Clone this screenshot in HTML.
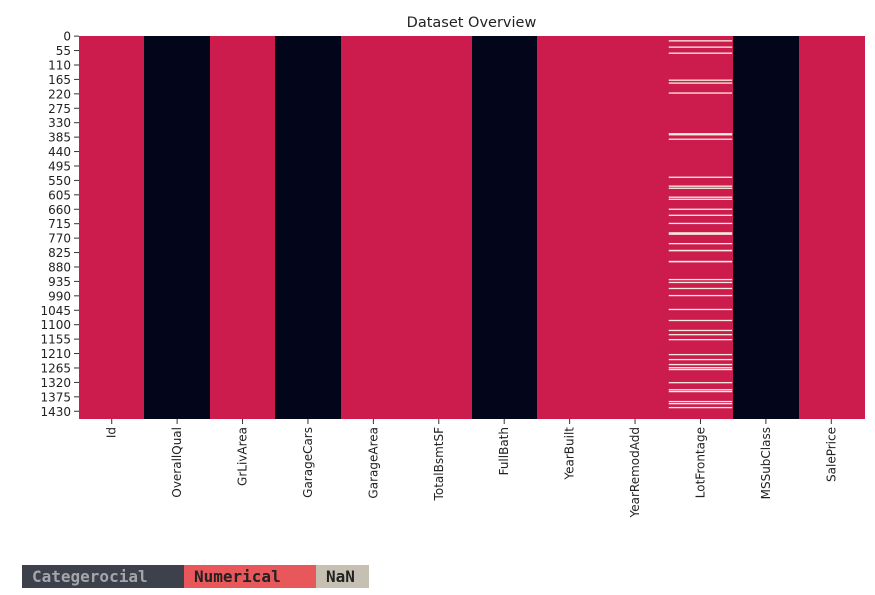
<!DOCTYPE html>
<html><head><meta charset="utf-8"><style>
body{margin:0;background:#fff;width:875px;height:595px;overflow:hidden;position:relative;font-family:"DejaVu Sans","Liberation Sans",sans-serif}
.lg{position:absolute;top:565px;height:23px;line-height:23px;font-family:"DejaVu Sans Mono","Liberation Mono",monospace;font-weight:bold;font-size:16px;padding-left:10px;box-sizing:border-box}
</style></head><body>
<svg id="chart" width="875" height="560" style="position:absolute;left:0;top:0"></svg>
<div class="lg" style="left:22px;width:162px;background:#3c414c;color:#a3a6ab">Categerocial</div>
<div class="lg" style="left:184px;width:132px;background:#e8585a;color:#222">Numerical</div>
<div class="lg" style="left:316px;width:53px;background:#c6c0b2;color:#222">NaN</div>
<script>
const columns=["Id","OverallQual","GrLivArea","GarageCars","GarageArea","TotalBsmtSF","FullBath","YearBuilt","YearRemodAdd","LotFrontage","MSSubClass","SalePrice"];
const columnType=[1,0,1,0,1,1,0,1,1,1,0,1];
const nRows=1460;
const nanColumn=9;
const nanStart=[16,40,63,166,177,215,370,391,536,570,578,612,620,658,681,712,748,789,815,857,926,937,960,987,1040,1082,1120,1136,1155,1212,1231,1250,1262,1269,1319,1346,1353,1391,1399,1414];
const nanCount=[5,5,5,5,5,5,9,5,5,5,5,5,5,5,5,5,10,5,6,6,5,5,5,5,5,5,5,5,5,5,5,5,5,5,5,5,5,5,5,5];
const yTicks=[];for(let v=0;v<nRows;v+=55)yTicks.push(v);
const NS="http://www.w3.org/2000/svg";
const svg=document.getElementById('chart');
const L=79,R=864,T=36,B=419;
const cw=(R-L)/columns.length;
const xs=i=>L+i*cw;
const ys=r=>T+(B-T)*r/nRows;
function mk(t,a){const e=document.createElementNS(NS,t);for(const k in a)e.setAttribute(k,a[k]);svg.appendChild(e);return e;}
const title=mk('text',{x:(L+R)/2,y:27,'text-anchor':'middle','font-size':14.5,fill:'#222'});


title.textContent='Dataset Overview';
columns.forEach((c,i)=>{
  const r=mk('rect',{x:Math.round(xs(i)),y:T,width:Math.round(xs(i+1))-Math.round(xs(i))+1,height:B-T,fill:columnType[i]?'#cb1c4d':'#03051a','shape-rendering':'crispEdges'});
  
  
  const cx=xs(i)+cw/2;
  mk('line',{x1:cx,x2:cx,y1:B,y2:B+5,stroke:'#333'});
  const t=mk('text',{transform:`translate(${cx+4},${B+8}) rotate(-90)`,'text-anchor':'end','font-size':12,fill:'#222'});
  
  
  t.textContent=c;
});
nanStart.forEach((s,k)=>{
  const r=mk('rect',{x:xs(nanColumn)+1,y:ys(s),width:cw-2,height:Math.max(1.2,ys(s+nanCount[k])-ys(s)),fill:'#faebdd'});
  
  
});
yTicks.forEach(v=>{
  const y=ys(v+0.5);
  mk('line',{x1:L-5,x2:L,y1:y,y2:y,stroke:'#333'});
  const t=mk('text',{x:L-8,y:y+4.5,'text-anchor':'end','font-size':12,fill:'#222'});
  
  
  t.textContent=v;
});
</script>
</body></html>
